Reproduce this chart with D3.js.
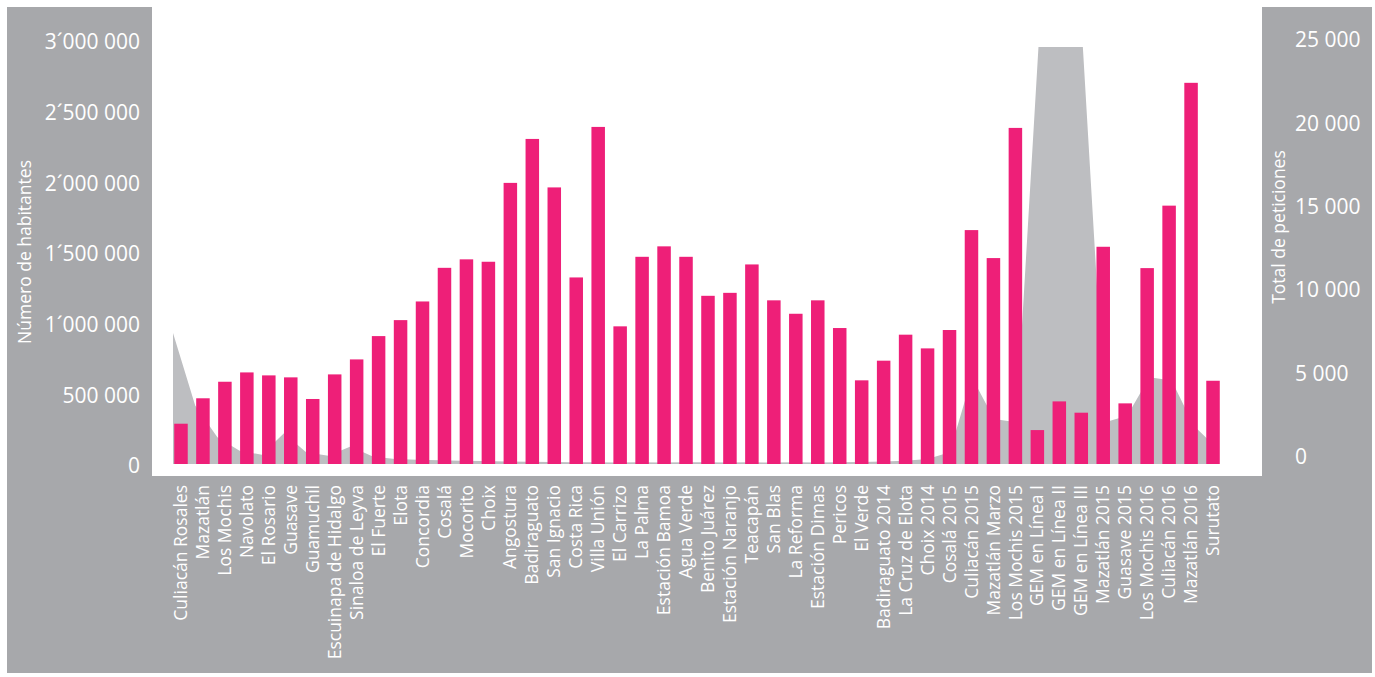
<!DOCTYPE html>
<html><head><meta charset="utf-8">
<script src="https://cdn.jsdelivr.net/npm/d3@7"></script>
<style>body{margin:0;background:#fff;overflow:hidden}</style>
</head><body>
<svg id="chart" width="1375" height="677"></svg>
<script>
const categories = ["Culiacán Rosales","Mazatlán","Los Mochis","Navolato","El Rosario","Guasave","Guamuchil","Escuinapa de Hidalgo","Sinaloa de Leyva","El Fuerte","Elota","Concordia","Cosalá","Mocorito","Choix","Angostura","Badiraguato","San Ignacio","Costa Rica","Villa Unión","El Carrizo","La Palma","Estación Bamoa","Agua Verde","Benito Juárez","Estación Naranjo","Teacapán","San Blas","La Reforma","Estación Dimas","Pericos","El Verde","Badiraguato 2014","La Cruz de Elota","Choix 2014","Cosalá 2015","Culiacán 2015","Mazatlán Marzo","Los Mochis 2015","GEM en Línea I","GEM en Línea II","GEM en Línea III","Mazatlán 2015","Guasave 2015","Los Mochis 2016","Culiacán 2016","Mazatlán 2016","Surutato"];
const habitantes = [285000,465000,582000,648000,627000,613000,460000,634000,740000,905000,1018000,1150000,1388000,1448000,1431000,1989000,2300000,1957000,1320000,2385000,974000,1466000,1540000,1466000,1190000,1211000,1412000,1158000,1063000,1158000,962000,592000,731000,915000,818000,948000,1655000,1457000,2378000,240000,443000,363000,1537000,429000,1386000,1828000,2697000,589000];
const peticiones = [7850,3500,1600,800,550,1850,700,500,1050,450,300,250,230,200,180,150,130,120,110,100,95,110,90,105,100,95,100,90,100,95,100,120,150,200,300,700,5200,2700,2500,25000,25000,25000,2500,2900,5200,5000,2300,1000];
const leftTicks = [0,500000,1000000,1500000,2000000,2500000,3000000];
const leftTickLabels = ["0","500 000","1´000 000","1´500 000","2´000 000","2´500 000","3´000 000"];
const rightTicks = [0,5000,10000,15000,20000,25000];
const rightTickLabels = ["0","5 000","10 000","15 000","20 000","25 000"];
const leftTitle = "Número de habitantes";
const rightTitle = "Total de peticiones";

const W = 1375, H = 677;
const FONT = "'Open Sans', 'Noto Sans', sans-serif";
const svg = d3.select("#chart");

// panels
svg.append("rect").attr("x",7).attr("y",7).attr("width",1365).attr("height",666).attr("fill","#a7a8ab");
svg.append("rect").attr("x",152).attr("y",0).attr("width",1110).attr("height",476).attr("fill","#ffffff");

const x = d3.scaleBand().domain(categories).range([170,1224]).paddingInner(0.385).paddingOuter(0.1925);
const xArea = d3.scalePoint().domain(categories).range([173,1216]);
const yL = d3.scaleLinear().domain([0,3000000]).range([464,40]);
const yR = d3.scaleLinear().domain([0,25000]).range([464,47]);

// area (peticiones)
const area = d3.area()
  .x((d,i)=>xArea(categories[i]))
  .y0(yR(0))
  .y1(d=>yR(d));
svg.append("path").datum(peticiones).attr("d",area).attr("fill","#bdbec1");

// bars (habitantes)
svg.append("g").selectAll("rect").data(habitantes).join("rect")
  .attr("x",(d,i)=>x(categories[i]))
  .attr("width",x.bandwidth())
  .attr("y",d=>yL(d))
  .attr("height",d=>yL(0)-yL(d))
  .attr("fill","#ee1f78");

// left axis
const axL = d3.axisLeft(yL).tickValues(leftTicks).tickFormat((d,i)=>leftTickLabels[i]).tickSize(0).tickPadding(0);
const gL = svg.append("g").attr("transform","translate(140,2)").call(axL);
gL.select(".domain").remove();
gL.selectAll("text").attr("fill","#ffffff").style("font-family",FONT).style("font-size","21px");

// right axis
const axR = d3.axisRight(yR).tickValues(rightTicks).tickFormat((d,i)=>rightTickLabels[i]).tickSize(0).tickPadding(0);
const gR = svg.append("g").attr("transform","translate(1295,-7)").call(axR);
gR.select(".domain").remove();
gR.selectAll("text").attr("fill","#ffffff").style("font-family",FONT).style("font-size","21px");

// category axis
const axB = d3.axisBottom(x).tickSize(0).tickPadding(0);
const gB = svg.append("g").attr("transform","translate(0,485)").call(axB);
gB.select(".domain").remove();
gB.selectAll("text")
  .attr("fill","#ffffff").style("font-family",FONT).style("font-size","17.5px")
  .attr("text-anchor","end")
  .attr("transform","rotate(-90)")
  .attr("x",0).attr("y",0).attr("dy","0.35em");

// titles
svg.append("text").attr("transform","translate(31,252) rotate(-90)")
  .attr("text-anchor","middle").attr("fill","#ffffff")
  .style("font-family",FONT).style("font-size","17.5px").text(leftTitle);
svg.append("text").attr("transform","translate(1285,227) rotate(-90)")
  .attr("text-anchor","middle").attr("fill","#ffffff")
  .style("font-family",FONT).style("font-size","17.5px").text(rightTitle);
</script>
</body></html>
